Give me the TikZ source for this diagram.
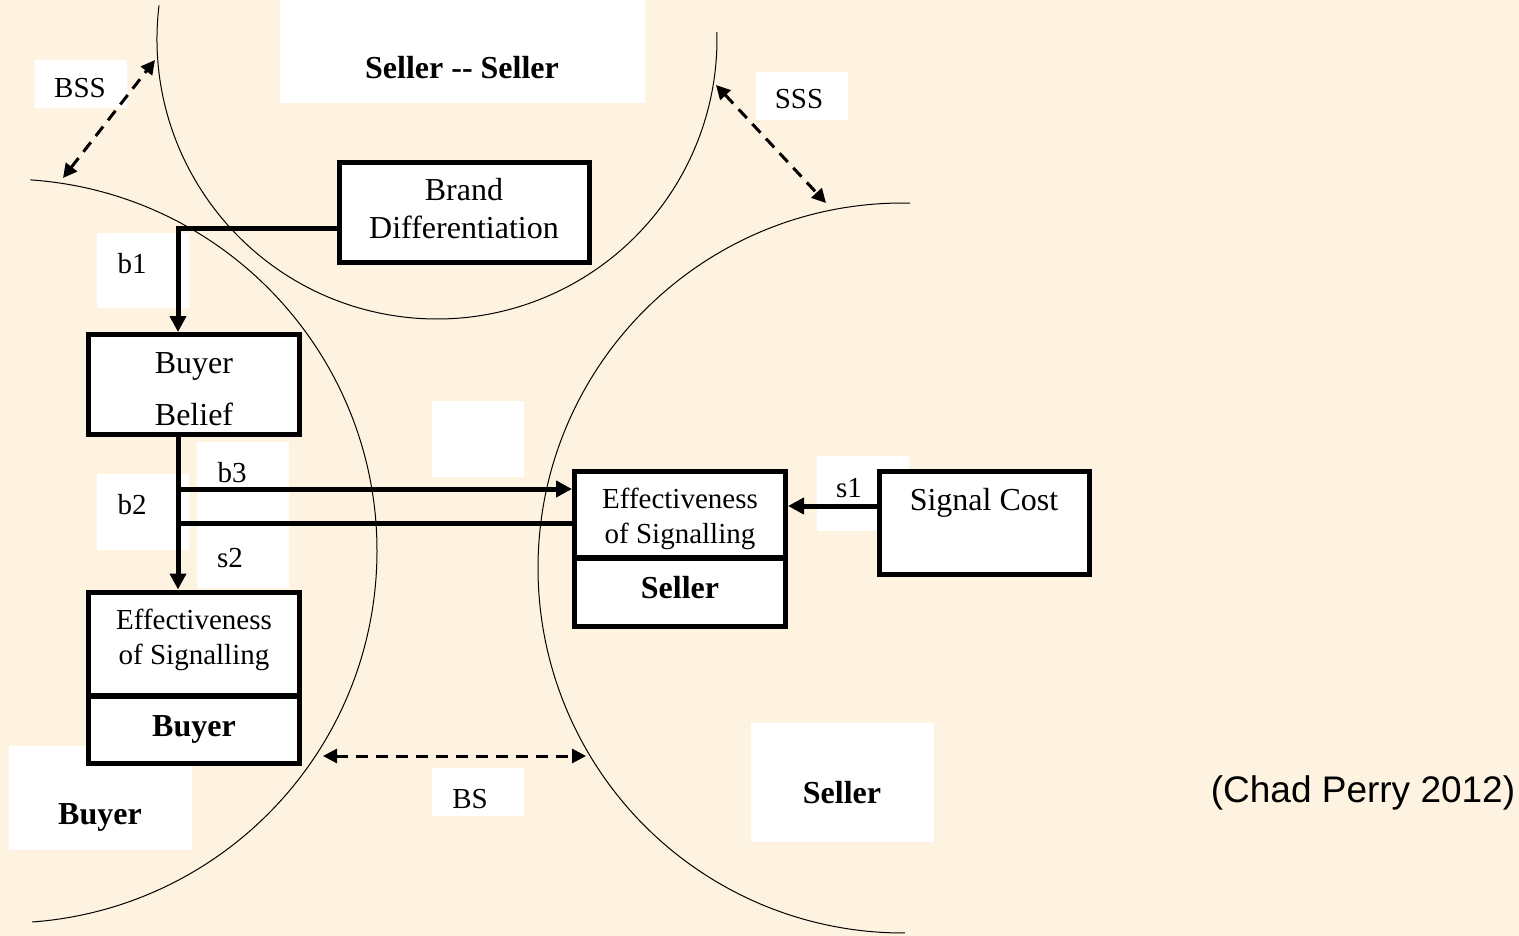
\documentclass[tikz,border=0pt]{standalone}
\usepackage{fontspec}
\setmainfont{Liberation Serif}
\newfontfamily\arialfont{Liberation Sans}
\usetikzlibrary{arrows.meta}
\definecolor{bgcream}{RGB}{254,242,224}
\begin{document}
\begin{tikzpicture}[x=0.5pt,y=-0.5pt,
  circ/.style={line width=0.5pt, draw=black},
  box/.style={draw, line width=2.5pt, fill=white, inner sep=0pt},
  lblbg/.style={fill=white, draw=none, inner sep=0pt},
  txtbig/.style={font=\fontsize{16}{19}\selectfont, anchor=base, inner sep=0pt},
  txtmid/.style={font=\fontsize{14.5}{17}\selectfont, anchor=base, inner sep=0pt},
  txtsm/.style={font=\fontsize{14.5}{17}\selectfont, anchor=base, inner sep=0pt},
  txtbold/.style={font=\fontsize{16}{19}\selectfont\bfseries, anchor=base, inner sep=0pt},
  conn/.style={line width=2.5pt},
  arr/.style={conn, -{Triangle[length=8pt,width=8pt]}},
  dbl/.style={line width=1.5pt, dash pattern=on 6pt off 4pt,
    {Triangle[length=7pt,width=7pt]}-{Triangle[length=7pt,width=7pt]}}
]
% background
\fill[bgcream] (0,0) rectangle (1519,936);
\useasboundingbox (0,0) rectangle (1519,936);

% circles (arcs)
\draw[circ] (437,39) ++(186.9:280) arc[start angle=186.9, end angle=-1.4, radius=280];
\draw[circ] (5,551) ++(-86.1:372) arc[start angle=-86.1, end angle=85.8, radius=372];
\draw[circ] (903,568) ++(271.1:365) arc[start angle=271.1, end angle=89.7, radius=365];

% white label backgrounds
\node[lblbg, minimum width=46pt, minimum height=24pt] (bssbg) at (81,84) {};
\node[lblbg, minimum width=182.5pt, minimum height=51.5pt] (ssbg) at (462.5,51.5) {};
\node[lblbg, minimum width=46pt, minimum height=24pt] (sssbg) at (802,96) {};
\node[lblbg, minimum width=46pt, minimum height=37.5pt] (b1bg) at (143,270.5) {};
\node[lblbg, minimum width=46pt, minimum height=38pt] (b2bg) at (143,512) {};
\node[lblbg, minimum width=46pt, minimum height=73pt] (b3bg) at (243,515) {};
\node[lblbg, minimum width=46pt, minimum height=38pt] (emptybg) at (478,439) {};
\node[lblbg, minimum width=46pt, minimum height=37.5pt] (s1bg) at (863,493.5) {};
\node[lblbg, minimum width=46pt, minimum height=24pt] (bsbg) at (478,792) {};
\node[lblbg, minimum width=91.5pt, minimum height=52pt] (buyerbg) at (100.5,798) {};
\node[lblbg, minimum width=91.5pt, minimum height=59.5pt] (sellerbg) at (842.5,782.5) {};

% boxes
\node[box, minimum width=125pt, minimum height=50pt] (bd) at (464,212.5) {};
\node[box, minimum width=105.5pt, minimum height=50pt] (bb) at (194,384.5) {};
\node[box, minimum width=105.5pt, minimum height=51.5pt] (be) at (194,643.5) {};
\node[box, minimum width=105.5pt, minimum height=33.5pt] (beb) at (194,729.5) {};
\node[box, minimum width=105.5pt, minimum height=43pt] (se) at (680,514) {};
\node[box, minimum width=105.5pt, minimum height=34pt] (ses) at (680,592) {};
\node[box, minimum width=105pt, minimum height=51.5pt] (sc) at (984.5,523) {};

% box texts
\node[txtbig] (tbrand) at (464,201) {Brand};
\node[txtbig] (tdiff) at (464,239) {Differentiation};
\node[txtbig] (tbuyer1) at (194,373) {Buyer};
\node[txtbig] (tbelief) at (194,425) {Belief};
\node[txtmid] (teff1) at (194,629) {Effectiveness};
\node[txtmid] (tsig1) at (194,664) {of Signalling};
\node[txtbold] (tbuyerb) at (194,736) {Buyer};
\node[txtmid] (teff2) at (680,508) {Effectiveness};
\node[txtmid] (tsig2) at (680,543) {of Signalling};
\node[txtbold] (tsellerb) at (680,598) {Seller};
\node[txtbig] (tcost) at (984,510) {Signal Cost};

% labels
\node[txtsm] (tBSS) at (80,98) {BSS};
\node[txtbold] (tSS) at (462,79) {Seller {-}{-} Seller};
\node[txtsm] (tSSS) at (799,109) {SSS};
\node[txtsm] (tb1) at (132,273) {b1};
\node[txtsm] (tb2) at (132,514) {b2};
\node[txtsm] (tb3) at (232,482) {b3};
\node[txtsm] (ts2) at (230,567) {s2};
\node[txtsm] (ts1) at (849,497) {s1};
\node[txtsm] (tBS) at (470,808) {BS};
\node[txtbold] (tBuyer) at (100,824) {Buyer};
\node[txtbold] (tSeller) at (842,803) {Seller};
\node[font=\arialfont\fontsize{18.5}{22}\selectfont, anchor=base, inner sep=0pt] (cite) at (1363,802) {(Chad Perry 2012)};

% connectors
\coordinate (j1) at (178,229);
\coordinate (j2) at (178,489);
\coordinate (j3) at (178,523);
\coordinate (j4) at (877,506);
\draw[arr] (bd.west |- j1) -- (j1) -- (j1 |- bb.north);
\draw[arr] (j1 |- bb.south) -- (j1 |- be.north);
\draw[arr] (j2) -- (se.west |- j2);
\draw[conn] (j3) -- (se.west |- j3);
\draw[arr] (sc.west |- j4) -- (se.east |- j4);

% dashed double arrows
\coordinate (bssA) at (63,178);
\coordinate (bssB) at (155,60);
\coordinate (sssA) at (716,85);
\coordinate (sssB) at (826,203);
\coordinate (bsA) at (323,756);
\coordinate (bsB) at (586,756);
\draw[dbl] (bssA) -- (bssB);
\draw[dbl] (sssA) -- (sssB);
\draw[dbl] (bsA) -- (bsB);
\end{tikzpicture}
\end{document}
